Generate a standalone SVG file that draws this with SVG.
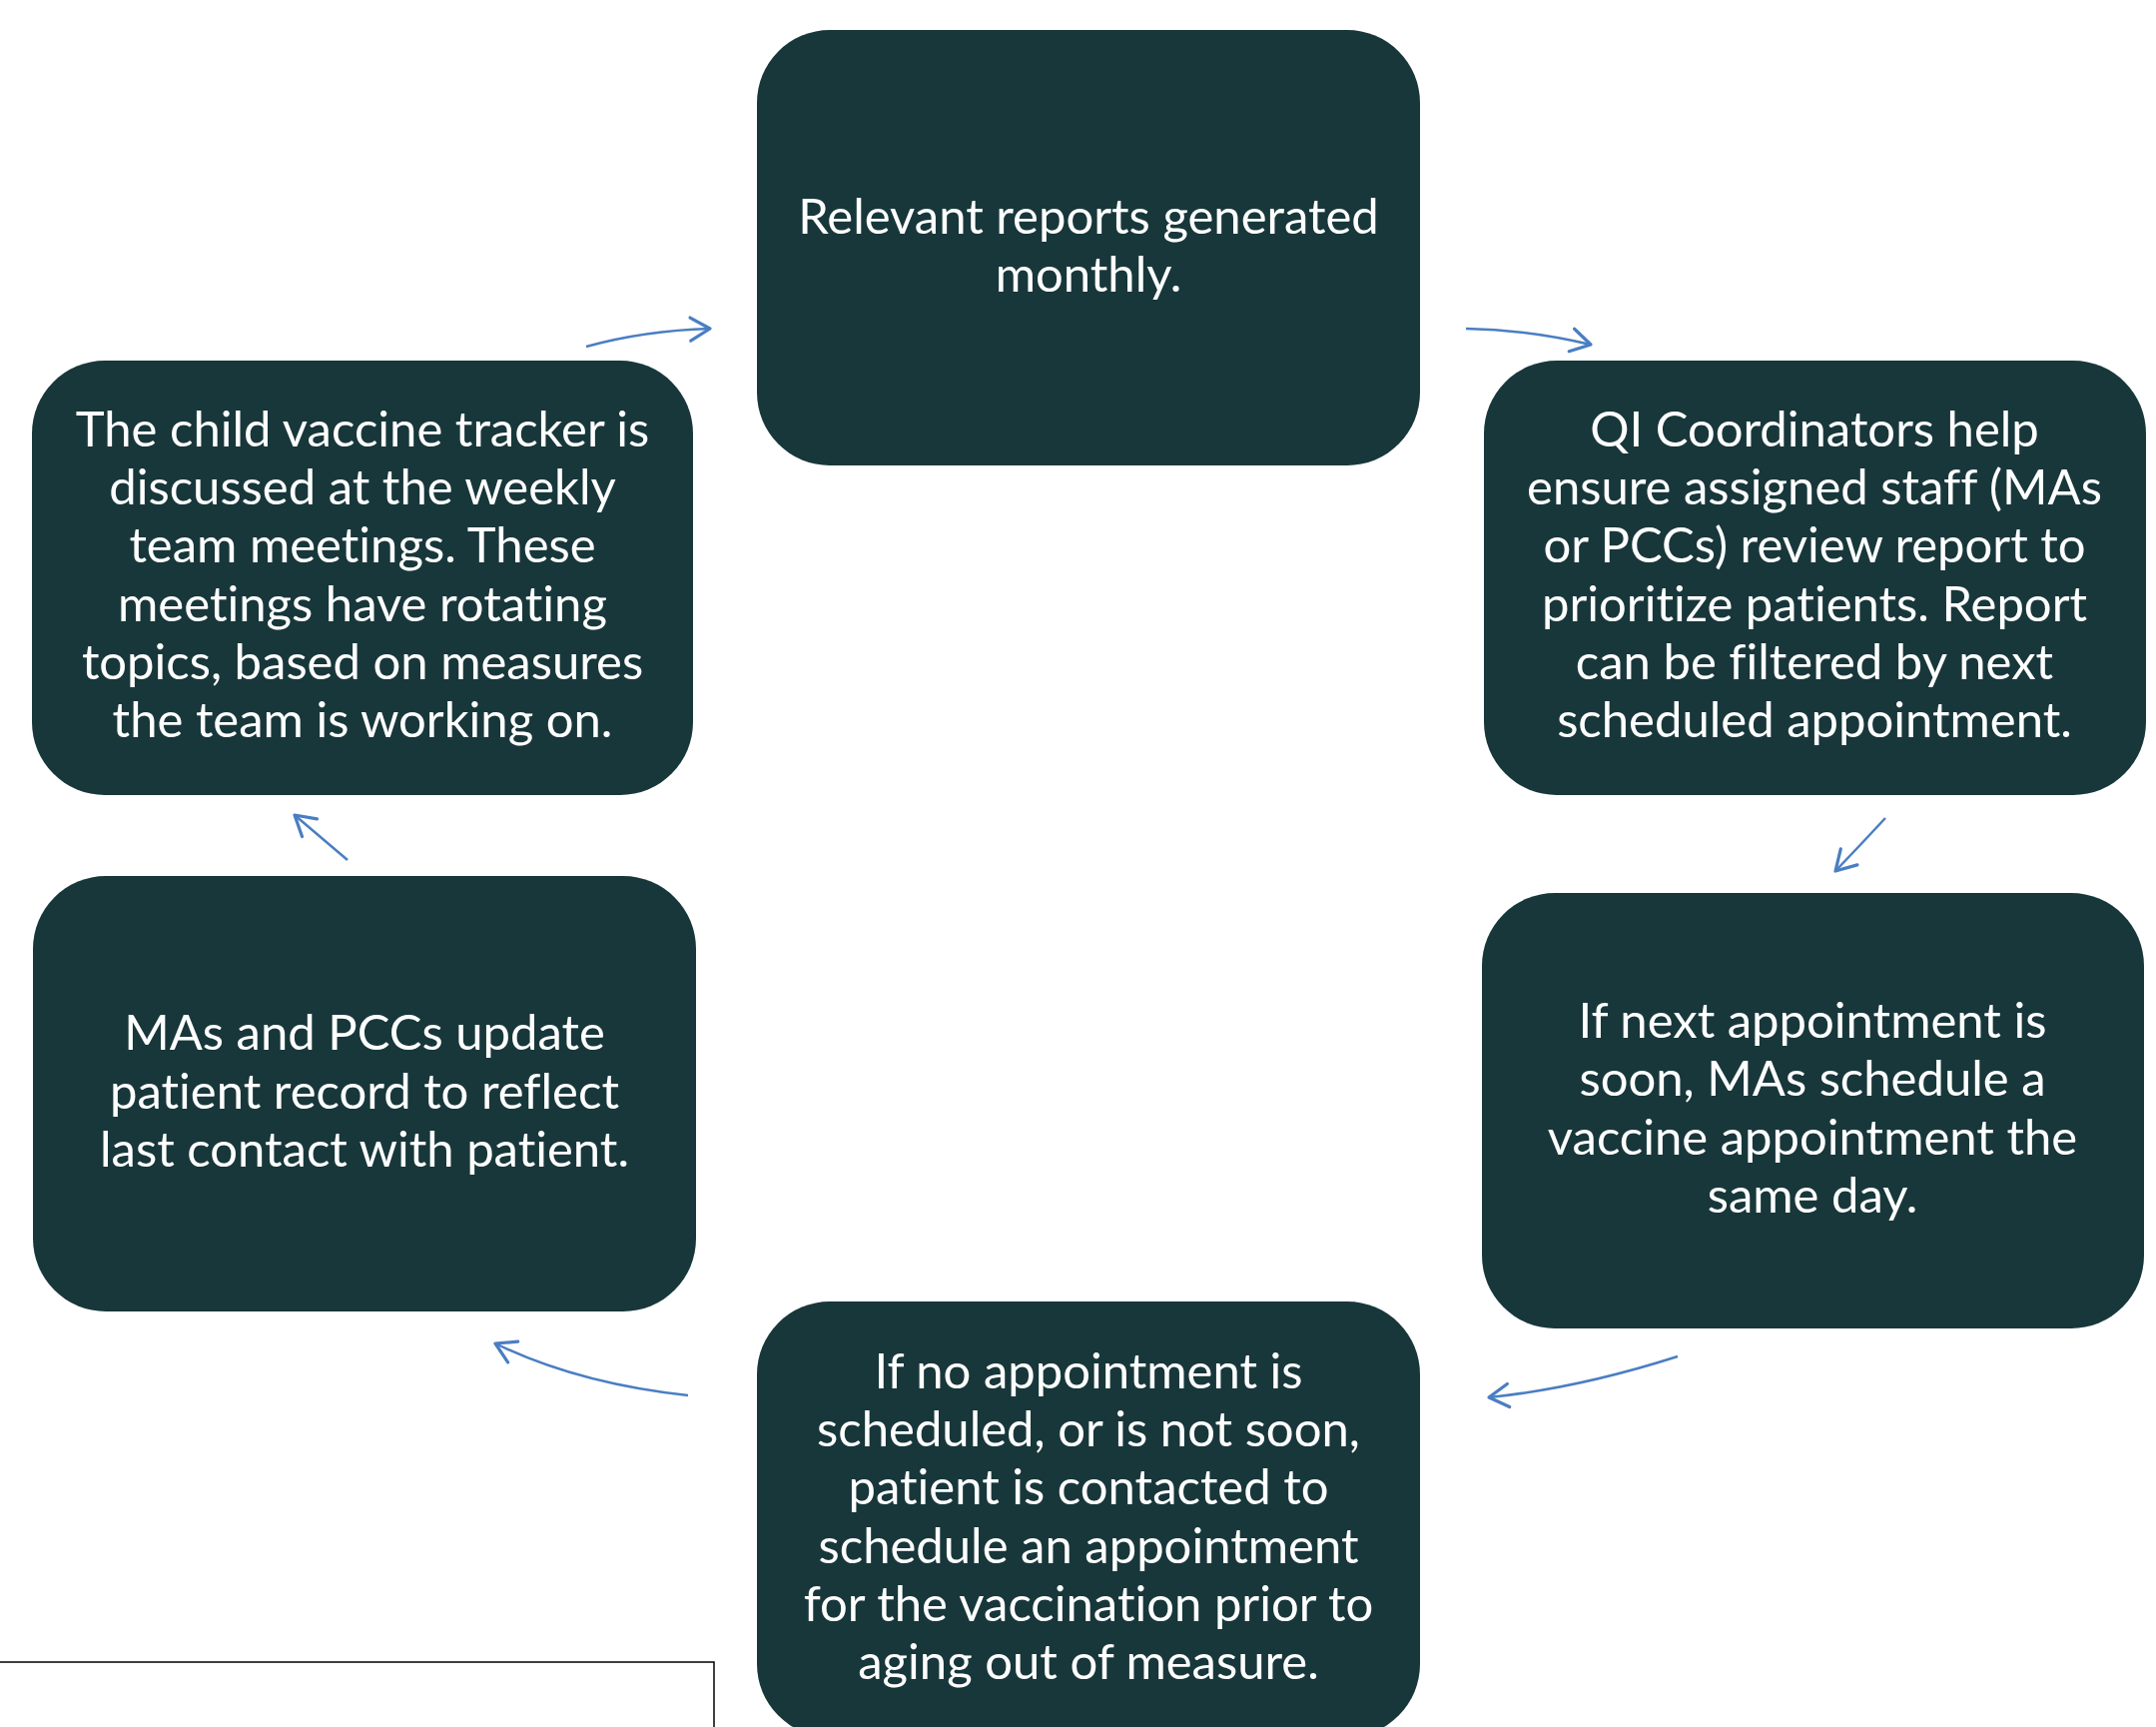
<svg xmlns="http://www.w3.org/2000/svg" width="2159" height="1729" viewBox="0 0 2159 1729">
<style>
.box{fill:#18373A;}
.lbl{font-family:Lato,"Liberation Sans",sans-serif;font-size:49px;fill:#FFFFFF;text-anchor:middle;font-variant-ligatures:none;font-feature-settings:"liga" 0,"dlig" 0;}
.arr{fill:none;stroke:#4A7EC2;stroke-width:2.5;marker-end:url(#ah);}
</style>
<defs>
<marker id="ah" markerUnits="userSpaceOnUse" markerWidth="30" markerHeight="30" viewBox="-22 -13 26 26" refX="0" refY="0" orient="auto">
<path d="M-17,-10 L0,0 L-17,10" fill="none" stroke="#4A7EC2" stroke-width="2.8" stroke-linecap="round" stroke-linejoin="round"/>
</marker>
</defs>
<rect width="2159" height="1729" fill="#FFFFFF"/>
<g id="n1">
<rect class="box" x="758" y="30" width="664" height="436" rx="73"/>
<text class="lbl"><tspan x="1090" y="234">Relevant reports generated</tspan><tspan x="1090" y="292">monthly.</tspan></text>
</g>
<g id="n2">
<rect class="box" x="1486" y="361" width="663" height="435" rx="73"/>
<text class="lbl"><tspan x="1817" y="447">QI Coordinators help</tspan><tspan x="1817" y="505">ensure assigned staff (MAs</tspan><tspan x="1817" y="563">or PCCs) review report to</tspan><tspan x="1817" y="622">prioritize patients. Report</tspan><tspan x="1817" y="680">can be filtered by next</tspan><tspan x="1817" y="738">scheduled appointment.</tspan></text>
</g>
<g id="n3">
<rect class="box" x="1484" y="894" width="663" height="436" rx="73"/>
<text class="lbl"><tspan x="1815" y="1039">If next appointment is</tspan><tspan x="1815" y="1097">soon, MAs schedule a</tspan><tspan x="1815" y="1156">vaccine appointment the</tspan><tspan x="1815" y="1214">same day.</tspan></text>
</g>
<g id="n4">
<rect class="box" x="758" y="1303" width="664" height="436" rx="73"/>
<text class="lbl"><tspan x="1090" y="1390">If no appointment is</tspan><tspan x="1090" y="1448">scheduled, or is not soon,</tspan><tspan x="1090" y="1506">patient is contacted to</tspan><tspan x="1090" y="1565">schedule an appointment</tspan><tspan x="1090" y="1623">for the vaccination prior to</tspan><tspan x="1090" y="1681">aging out of measure.</tspan></text>
</g>
<g id="n5">
<rect class="box" x="33" y="877" width="664" height="436" rx="73"/>
<text class="lbl"><tspan x="365" y="1051">MAs and PCCs update</tspan><tspan x="365" y="1110">patient record to reflect</tspan><tspan x="365" y="1168">last contact with patient.</tspan></text>
</g>
<g id="n6">
<rect class="box" x="32" y="361" width="662" height="435" rx="73"/>
<text class="lbl"><tspan x="363" y="447">The child vaccine tracker is</tspan><tspan x="363" y="505">discussed at the weekly</tspan><tspan x="363" y="563">team meetings. These</tspan><tspan x="363" y="622">meetings have rotating</tspan><tspan x="363" y="680">topics, based on measures</tspan><tspan x="363" y="738">the team is working on.</tspan></text>
</g>
<g id="connectors">
<path class="arr" d="M587,347 Q645,331 711,329"/>
<path class="arr" d="M1468,329 Q1530,330 1593,345"/>
<path class="arr" d="M1888,819 Q1863,846 1838,872"/>
<path class="arr" d="M1680,1358 Q1580,1390 1491,1399"/>
<path class="arr" d="M689,1397 Q578,1385 496,1345"/>
<path class="arr" d="M348,861 Q321,838 295,816"/>
</g>
<path d="M0,1664 H715 V1729" fill="none" stroke="#000000" stroke-width="1.5"/>
</svg>
